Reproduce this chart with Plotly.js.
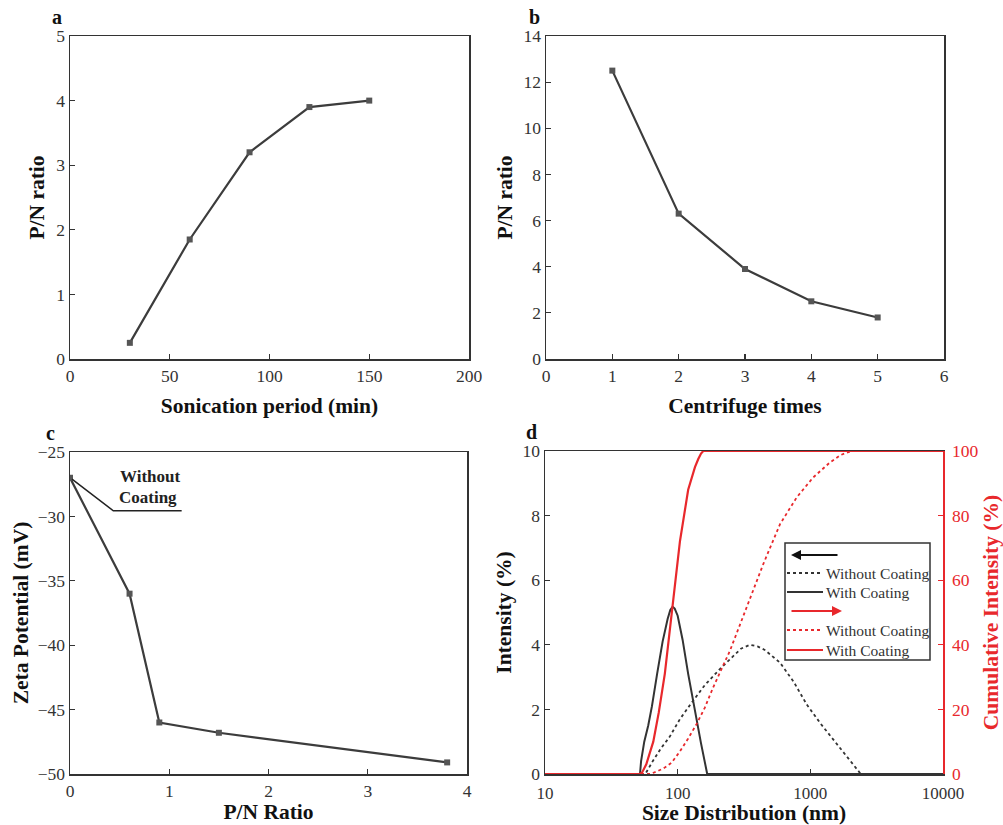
<!DOCTYPE html>
<html>
<head>
<meta charset="utf-8">
<script src="https://cdn.plot.ly/plotly-3.0.1.min.js"></script>
<style>html,body{margin:0;padding:0;background:#fff}#chart{width:1003px;height:825px}</style>
</head>
<body>
<div id="chart"></div>
<script>
// ---- Panel a ----
const sonicationMin = [30, 60, 90, 120, 150];
const pnRatioA = [0.25, 1.85, 3.2, 3.9, 4.0];
// ---- Panel b ----
const centrifugeTimes = [1, 2, 3, 4, 5];
const pnRatioB = [12.5, 6.3, 3.9, 2.5, 1.8];
// ---- Panel c ----
const pnRatioC = [0, 0.6, 0.9, 1.5, 3.8];
const zetaMV = [-27, -36, -46, -46.8, -49.1];
// ---- Panel d ----
const sizeWithInt = [10, 52, 53, 56, 60, 64, 70, 77, 84, 88, 91.6, 95, 100, 109, 120, 133, 150, 167, 10000];
const intWith     = [0, 0, 0.4, 1.0, 1.5, 2.1, 3.1, 4.1, 4.8, 5.08, 5.18, 5.12, 4.9, 4.15, 3.1, 2.05, 0.95, 0, 0];
const sizeWithoutInt = [10, 57, 65, 75, 87, 104, 127, 160, 208, 260, 300, 350, 400, 450, 590, 750, 940, 1200, 1400, 1800, 2400, 10000];
const intWithout     = [0, 0, 0.4, 0.8, 1.15, 1.7, 2.2, 2.75, 3.25, 3.65, 3.88, 4.0, 3.95, 3.85, 3.45, 2.85, 2.15, 1.55, 1.2, 0.65, 0, 0];
const sizeWithCum = [10, 52, 54, 58, 65.5, 72, 80, 91.6, 104, 120, 135, 143, 150, 156, 10000];
const cumWith     = [0, 0, 0.5, 3, 10, 19, 31, 52, 72, 88, 95, 97.5, 99.2, 100, 100];
const sizeWithoutCum = [10, 62, 70, 80, 90, 104, 120, 139, 160, 185, 248, 331, 442, 590, 788, 1050, 1400, 1700, 2050, 10000];
const cumWithout     = [0, 0, 0.8, 2, 3.5, 7, 11, 15.5, 20.5, 26.8, 38.2, 51.6, 65, 77.3, 85.6, 91.8, 96.4, 98.8, 100, 100];
// tick labels for the log axis
const sizeTickVals = [10, 100, 1000, 10000];
const sizeTickText = ['10', '100', '1000', '10000'];
// legend labels
const legendLabels = ['Without Coating', 'With Coating', 'Without Coating', 'With Coating'];

const W = 1003, H = 825;
const X = p => p / W, Y = p => 1 - p / H;
const SERIF = 'Liberation Serif, Times New Roman, serif';
const DARK = '#3c3c3c', RED = '#e8282c';
const tickFont = {family: SERIF, size: 17.5, color: '#333'};
const titleFont = {family: SERIF, size: 21.5, color: '#111', weight: 'bold'};

function ax(domain, extra) {
  return Object.assign({
    domain: domain, showline: true, linecolor: '#333', linewidth: 1.5, mirror: true,
    ticks: 'inside', ticklen: 5, tickcolor: '#333', tickwidth: 1.2,
    showgrid: false, zeroline: false, tickfont: tickFont
  }, extra);
}

const lineStyle = {color: DARK, width: 2.2};
const markerStyle = {symbol: 'square', size: 6, color: '#555'};

const traces = [
  {x: sonicationMin, y: pnRatioA, xaxis: 'x', yaxis: 'y', mode: 'lines+markers', line: lineStyle, marker: markerStyle},
  {x: centrifugeTimes, y: pnRatioB, xaxis: 'x2', yaxis: 'y2', mode: 'lines+markers', line: lineStyle, marker: markerStyle},
  {x: pnRatioC, y: zetaMV, xaxis: 'x3', yaxis: 'y3', mode: 'lines+markers', line: lineStyle, marker: markerStyle},
  {x: sizeWithoutInt, y: intWithout, xaxis: 'x4', yaxis: 'y4', mode: 'lines', line: {color: '#333', width: 1.8, dash: 'dot'}},
  {x: sizeWithInt, y: intWith, xaxis: 'x4', yaxis: 'y4', mode: 'lines', line: {color: '#333', width: 2}},
  {x: sizeWithoutCum, y: cumWithout, xaxis: 'x4', yaxis: 'y5', mode: 'lines', line: {color: RED, width: 1.8, dash: 'dot'}},
  {x: sizeWithCum, y: cumWith, xaxis: 'x4', yaxis: 'y5', mode: 'lines', line: {color: RED, width: 2.2}}
];

const layout = {
  width: W, height: H, margin: {l: 0, r: 0, t: 0, b: 0},
  paper_bgcolor: '#fff', plot_bgcolor: '#fff', showlegend: false,
  font: {family: SERIF, color: '#222'},
  xaxis: ax([X(70), X(469)], {anchor: 'y', range: [0, 200], dtick: 50,
    title: {text: 'Sonication period (min)', font: titleFont, standoff: 13}}),
  yaxis: ax([Y(359), Y(36)], {anchor: 'x', range: [0, 5], dtick: 1,
    title: {text: 'P/N ratio', font: titleFont, standoff: 5}}),
  xaxis2: ax([X(546), X(944)], {anchor: 'y2', range: [0, 6], dtick: 1,
    title: {text: 'Centrifuge times', font: titleFont, standoff: 13}}),
  yaxis2: ax([Y(359), Y(36)], {anchor: 'x2', range: [0, 14], dtick: 2,
    title: {text: 'P/N ratio', font: titleFont, standoff: 5}}),
  xaxis3: ax([X(70), X(467)], {anchor: 'y3', range: [0, 4], dtick: 1,
    title: {text: 'P/N Ratio', font: titleFont, standoff: 3}}),
  yaxis3: ax([Y(774), Y(452)], {anchor: 'x3', range: [-50, -25], dtick: 5,
    title: {text: 'Zeta Potential (mV)', font: titleFont, standoff: 3}}),
  xaxis4: ax([X(545), X(943)], {anchor: 'y4', type: 'log', range: [1, 4],
    tickmode: 'array', tickvals: sizeTickVals, ticktext: sizeTickText, ticklabelstandoff: 3,
    tickfont: {family: SERIF, size: 17, color: '#333'},
    title: {text: 'Size Distribution (nm)', font: titleFont, standoff: 1}}),
  yaxis4: ax([Y(774), Y(451)], {anchor: 'x4', range: [0, 10], dtick: 2, mirror: false,
    title: {text: 'Intensity (%)', font: titleFont, standoff: 5}}),
  yaxis5: ax([Y(774), Y(451)], {anchor: 'x4', overlaying: 'y4', side: 'right', range: [0, 100], dtick: 20,
    mirror: false, linecolor: RED, tickcolor: RED, tickfont: {family: SERIF, size: 17.5, color: RED}, ticklabelstandoff: 4,
    title: {text: 'Cumulative Intensity (%)', font: {family: SERIF, size: 21.5, color: RED, weight: 'bold'}, standoff: 5}}),
  shapes: [],
  annotations: []
};

// panel letters
[['a', 57, 17], ['b', 534, 17], ['c', 50, 433], ['d', 531, 432]].forEach(([t, px, py]) => {
  layout.annotations.push({text: '<b>' + t + '</b>', xref: 'paper', yref: 'paper', x: X(px), y: Y(py),
    showarrow: false, xanchor: 'center', yanchor: 'middle', font: {family: SERIF, size: 20, color: '#111'}});
});

// panel c label with leader line
layout.annotations.push({text: '<b>Without</b>', xref: 'x3', yref: 'y3', x: 0.81, y: -26.9, showarrow: false,
  xanchor: 'center', yanchor: 'middle', font: {family: SERIF, size: 17, color: '#222'}});
layout.annotations.push({text: '<b>Coating</b>', xref: 'x3', yref: 'y3', x: 0.79, y: -28.55, showarrow: false,
  xanchor: 'center', yanchor: 'middle', font: {family: SERIF, size: 17, color: '#222'}});
layout.shapes.push({type: 'path', xref: 'x3', yref: 'y3', path: 'M 0.02,-27.1 L 0.436,-29.56 L 1.125,-29.56',
  line: {color: '#222', width: 1.5}});

// custom legend for panel d
layout.shapes.push({type: 'rect', xref: 'paper', yref: 'paper', x0: X(785), x1: X(930), y0: Y(660), y1: Y(543),
  line: {color: '#333', width: 1.5}, fillcolor: 'rgba(255,255,255,0)'});
const rows = [
  {py: 573, color: '#333', dash: 'dot', label: legendLabels[0]},
  {py: 592, color: '#333', dash: 'solid', label: legendLabels[1]},
  {py: 630, color: RED, dash: 'dot', label: legendLabels[2]},
  {py: 650, color: RED, dash: 'solid', label: legendLabels[3]}
];
rows.forEach(r => {
  layout.shapes.push({type: 'line', xref: 'paper', yref: 'paper', x0: X(787), x1: X(823), y0: Y(r.py), y1: Y(r.py),
    line: {color: r.color, width: 2, dash: r.dash}});
  layout.annotations.push({text: r.label, xref: 'paper', yref: 'paper', x: X(824), y: Y(r.py), showarrow: false,
    xanchor: 'left', yanchor: 'middle', font: {family: SERIF, size: 15.5, color: '#333'}});
});
// legend arrows
layout.annotations.push({text: '', xref: 'paper', yref: 'paper', x: X(791), y: Y(555), ax: 48, ay: 0,
  showarrow: true, arrowhead: 2, arrowsize: 1, arrowwidth: 2, arrowcolor: '#111'});
layout.annotations.push({text: '', xref: 'paper', yref: 'paper', x: X(842), y: Y(611), ax: -52, ay: 0,
  showarrow: true, arrowhead: 2, arrowsize: 1, arrowwidth: 2, arrowcolor: RED});

Plotly.newPlot('chart', traces, layout, {displayModeBar: false, staticPlot: true});
</script>
</body>
</html>
